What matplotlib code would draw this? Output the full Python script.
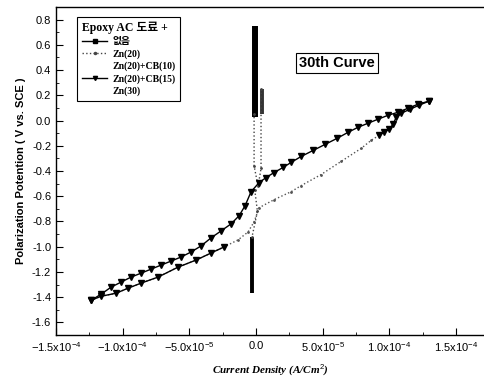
import numpy as np
import matplotlib
matplotlib.use("Agg")
import matplotlib.pyplot as plt
from matplotlib.lines import Line2D
from matplotlib.font_manager import FontProperties

plt.rcParams['mathtext.fontset'] = 'custom'
plt.rcParams['mathtext.rm'] = 'Liberation Sans'
plt.rcParams['font.family'] = ['Liberation Sans', 'Noto Sans CJK KR']

# Zn(20)+CB(15): forward branch (lower-left -> upper-right)
cb15_fwd_x = [-1.2375e-4, -1.1625e-4, -1.0875e-4, -1.0125e-4, -9.375e-5, -8.625e-5,
              -7.875e-5, -7.125e-5, -6.375e-5, -5.625e-5, -4.875e-5, -4.125e-5,
              -3.375e-5, -2.625e-5, -1.875e-5, -1.275e-5, -8.25e-6, -3.75e-6,
              2.25e-6, 7.5e-6, 1.35e-5, 2.025e-5, 2.625e-5, 3.375e-5, 4.275e-5,
              5.175e-5, 6.075e-5, 6.9e-5, 7.65e-5, 8.4e-5, 9.15e-5, 9.9e-5,
              1.065e-4, 1.14e-4, 1.215e-4, 1.2975e-4]
cb15_fwd_y = [-1.425, -1.377, -1.321, -1.281, -1.241, -1.210, -1.178, -1.146, -1.114,
              -1.082, -1.042, -0.994, -0.930, -0.875, -0.819, -0.755, -0.675, -0.564,
              -0.492, -0.452, -0.412, -0.372, -0.332, -0.285, -0.237, -0.189, -0.141,
              -0.093, -0.053, -0.021, 0.011, 0.042, 0.066, 0.098, 0.130, 0.154]
# Zn(20)+CB(15): return branch, right end
cb15_ret_x = [1.2975e-4, 1.2225e-4, 1.155e-4, 1.0875e-4, 1.05e-4, 1.0275e-4,
              9.975e-5, 9.6e-5, 9.225e-5]
cb15_ret_y = [0.154, 0.122, 0.090, 0.058, 0.026, -0.029, -0.069, -0.093, -0.117]
# Zn(20)+CB(15): return branch, left end
cb15_low_x = [-2.4e-5, -3.375e-5, -4.5e-5, -5.85e-5, -7.35e-5, -8.625e-5, -9.6e-5,
              -1.05e-4, -1.1625e-4, -1.2375e-4]
cb15_low_y = [-1.002, -1.050, -1.106, -1.162, -1.241, -1.289, -1.329, -1.369,
              -1.393, -1.425]

# Zn(20): dotted curve
zn20_x = [3.7e-6, 3.7e-6, 1.5e-6, -1.5e-6, -1.5e-6]
zn20_y = [0.25, -0.38, -0.52, -0.36, 0.05]
zn20_low_x = [9.225e-5, 8.625e-5, 7.875e-5, 6.375e-5, 4.875e-5, 3.375e-5, 2.625e-5,
              1.35e-5, 2.25e-6, -1.5e-6, -6e-6, -1.35e-5, -2.4e-5, -3.375e-5, -4.5e-5,
              -5.85e-5, -7.35e-5, -8.625e-5, -9.6e-5, -1.05e-4, -1.1625e-4, -1.2375e-4]
zn20_low_y = [-0.117, -0.157, -0.221, -0.324, -0.428, -0.516, -0.564, -0.627, -0.691,
              -0.803, -0.883, -0.946, -1.002, -1.050, -1.106, -1.162, -1.241, -1.289,
              -1.329, -1.369, -1.393, -1.425]
zn20_vert_x = [-1e-6, 1e-6, -3e-6]
zn20_vert_y = [-0.55, -0.72, -0.92]

# 없음 (no additive): near-zero current bars
none_top_x = [-0.5e-6, -0.5e-6]
none_top_y = [0.75, 0.03]
none_mid_x = [4.5e-6, 4.5e-6]
none_mid_y = [0.25, 0.05]
none_bot_x = [-3e-6, -3e-6]
none_bot_y = [-0.92, -1.37]

xticks = [-1.5e-4, -1.0e-4, -5.0e-5, 0.0, 5.0e-5, 1.0e-4, 1.5e-4]
xticklabels = [r'$\mathrm{-1.5x10^{-4}}$', r'$\mathrm{-1.0x10^{-4}}$', r'$\mathrm{-5.0x10^{-5}}$',
               '0.0', r'$\mathrm{5.0x10^{-5}}$', r'$\mathrm{1.0x10^{-4}}$', r'$\mathrm{1.5x10^{-4}}$']
yticks = [0.8, 0.6, 0.4, 0.2, 0.0, -0.2, -0.4, -0.6, -0.8, -1.0, -1.2, -1.4, -1.6]
legend_labels = ['없음', 'Zn(20)', 'Zn(20)+CB(10)', 'Zn(20)+CB(15)', 'Zn(30)']

fig = plt.figure(figsize=(4.85, 3.88), dpi=100)
ax = fig.add_axes([56 / 485, 53 / 388, 1 - 56 / 485, 328 / 388])

# 없음
ax.plot(none_top_x, none_top_y, color='black', lw=4.3, solid_capstyle='butt')
ax.plot(none_mid_x, none_mid_y, color='#333333', lw=2.8, solid_capstyle='butt')
ax.plot(none_bot_x, none_bot_y, color='black', lw=2.8, solid_capstyle='butt')

# Zn(20)
ax.plot(zn20_x, zn20_y, color='#444444', ls=':', lw=1.0, marker='.', ms=2)
ax.plot(zn20_low_x, zn20_low_y, color='#555555', ls=':', lw=1.0, marker='.', ms=2)
ax.plot(zn20_vert_x, zn20_vert_y, color='#444444', ls=':', lw=1.0, marker='.', ms=2)

# Zn(20)+CB(15)
ax.plot(cb15_fwd_x, cb15_fwd_y, color='black', lw=1.0, marker='v', ms=4)
ax.plot(cb15_ret_x, cb15_ret_y, color='black', lw=1.0, marker='v', ms=4)
ax.plot(cb15_low_x, cb15_low_y, color='black', lw=1.0, marker='v', ms=4)

ax.set_xlim(-1.5e-4, 1.716e-4)
ax.set_ylim(-1.7, 0.9)
ax.set_xticks(xticks)
ax.set_xticklabels(xticklabels)
ax.set_xticks([-1.25e-4, -7.5e-5, -2.5e-5, 2.5e-5, 7.5e-5, 1.25e-4], minor=True)
ax.set_yticks(yticks)
ax.set_yticklabels(['%.1f' % v for v in yticks])
ax.set_yticks(np.arange(-1.7, 0.9, 0.1), minor=True)
ax.tick_params(which='both', direction='in', labelsize=8, color='black')
ax.tick_params(which='major', length=5, width=0.8)
ax.tick_params(which='minor', length=2.5, width=0.6)
ax.tick_params(axis='x', pad=4)
ax.spines['right'].set_visible(False)
for s in ['top', 'left', 'bottom']:
    ax.spines[s].set_linewidth(1.0)

ax.set_ylabel('Polarization Potention ( V vs. SCE )', fontsize=8, fontweight='bold', labelpad=4)
ax.set_xlabel('Current Density (A/Cm$^2$)', fontsize=8, fontweight='bold', style='italic',
              family='Liberation Serif', labelpad=6)

ax.text(0.655, 0.829, '30th Curve', transform=ax.transAxes, ha='center', va='center',
        fontsize=10.5, fontweight='bold',
        bbox=dict(boxstyle='square,pad=0.2', fc='white', ec='black', lw=0.8))

handles = [
    Line2D([], [], color='black', lw=1.0, marker='s', ms=2.5),
    Line2D([], [], color='#444444', ls=':', lw=1.0, marker='.', ms=3),
    Line2D([], [], ls='none'),
    Line2D([], [], color='black', lw=1.0, marker='v', ms=3),
    Line2D([], [], ls='none'),
]
serif_kr = ['Liberation Serif', 'Noto Sans CJK KR']
leg = ax.legend(handles, legend_labels, loc='upper left', bbox_to_anchor=(0.038, 0.985),
                prop=FontProperties(family=serif_kr, weight='bold', size=7),
                title='Epoxy AC 도료 +',
                title_fontproperties=FontProperties(family=serif_kr, weight='bold', size=8.5),
                frameon=True, fancybox=False, edgecolor='black', framealpha=1,
                handlelength=2.6, handletextpad=0.5, labelspacing=0.3,
                borderpad=0.5, numpoints=1)
leg.get_frame().set_linewidth(0.8)
leg._legend_box.align = 'left'

fig.savefig('out.png', dpi=100)
